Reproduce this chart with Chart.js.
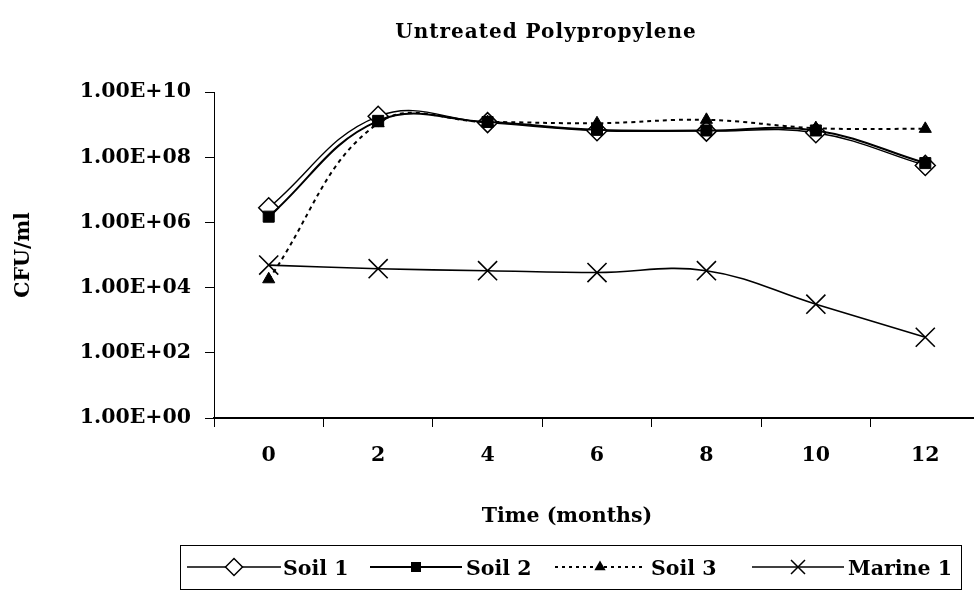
<!DOCTYPE html>
<html><head><meta charset="utf-8">
<script src="https://cdn.jsdelivr.net/npm/chart.js@4.4.0/dist/chart.umd.min.js"></script>
<style>
html,body{margin:0;padding:0;background:#fff;overflow:hidden;width:974px;height:593px}
#wrap{position:absolute;left:0;top:0;width:990px;height:593px}
</style>
</head><body><div id="wrap"><canvas id="c" width="990" height="593" style="width:990px;height:593px"></canvas></div>
<script>
const chartTitle = 'Untreated Polypropylene';
const xAxisTitle = 'Time (months)';
const yAxisTitle = 'CFU/ml';
const months = ['0','2','4','6','8','10','12'];
const soil1 = [2.8e6, 1.8e9, 1.15e9, 6.5e8, 6.3e8, 5.6e8, 5.6e7];
const soil2 = [1.5e6, 1.3e9, 1.2e9, 6.9e8, 6.6e8, 6.6e8, 6.6e7];
const soil3 = [1.8e4, 1.1e9, 1.2e9, 1.1e9, 1.4e9, 7.8e8, 7.4e8];
const marine1 = [4.9e4, 3.8e4, 3.3e4, 2.9e4, 3.3e4, 3.1e3, 3.0e2];
const seriesNames = ['Soil 1', 'Soil 2', 'Soil 3', 'Marine 1'];
const yTickValues = [1, 1e2, 1e4, 1e6, 1e8, 1e10];
const yTickLabels = ['1.00E+00', '1.00E+02', '1.00E+04', '1.00E+06', '1.00E+08', '1.00E+10'];

const FONT_FAMILY = "'DejaVu Serif', 'Liberation Serif', serif";
const baseFont = {family: FONT_FAMILY, size: 20.5, weight: 'bold'};
Chart.defaults.color = '#000';

function drawMarker(ctx, style, x, y, r) {
  ctx.save();
  ctx.strokeStyle = '#000';
  ctx.fillStyle = '#000';
  ctx.setLineDash([]);
  ctx.beginPath();
  if (style === 'diamond') {
    ctx.lineWidth = 1.5;
    ctx.moveTo(x - r, y); ctx.lineTo(x, y - r); ctx.lineTo(x + r, y); ctx.lineTo(x, y + r); ctx.closePath();
    ctx.fillStyle = '#fff'; ctx.fill(); ctx.stroke();
  } else if (style === 'square') {
    ctx.rect(x - r, y - r, 2 * r, 2 * r); ctx.fill();
  } else if (style === 'triangle') {
    ctx.moveTo(x, y - r); ctx.lineTo(x + r * 0.87, y + r * 0.5); ctx.lineTo(x - r * 0.87, y + r * 0.5); ctx.closePath(); ctx.fill();
  } else if (style === 'cross') {
    ctx.lineWidth = 1.5;
    ctx.moveTo(x - r, y - r); ctx.lineTo(x + r, y + r); ctx.moveTo(x + r, y - r); ctx.lineTo(x - r, y + r); ctx.stroke();
  }
  ctx.restore();
}

const decorPlugin = {
  id: 'decor',
  afterDraw(chart) {
    const ctx = chart.ctx;
    ctx.save();
    ctx.fillStyle = '#000';
    ctx.textAlign = 'center';
    ctx.textBaseline = 'alphabetic';
    ctx.font = "bold 20px " + FONT_FAMILY;
    ctx.letterSpacing = '1px';
    ctx.fillText(chartTitle, 546, 38);
    ctx.letterSpacing = '0px';
    ctx.font = "bold 20.5px " + FONT_FAMILY;
    ctx.fillText(xAxisTitle, 567, 522);
    // legend box
    ctx.lineWidth = 1;
    ctx.strokeStyle = '#000';
    ctx.strokeRect(180.5, 545.5, 781, 44);
    const entries = [
      {x0: 187, x1: 281, tx: 283, marker: 'diamond', r: 8.5, dash: [], lw: 1.5},
      {x0: 370, x1: 462, tx: 466, marker: 'square', r: 5, dash: [], lw: 1.8},
      {x0: 555, x1: 645, tx: 651, marker: 'triangle', r: 6.5, dash: [3, 4], lw: 2},
      {x0: 752, x1: 844, tx: 848, marker: 'cross', r: 7, dash: [], lw: 1.5}
    ];
    const ly = 567;
    entries.forEach((e, i) => {
      ctx.save();
      ctx.beginPath();
      ctx.setLineDash(e.dash);
      ctx.lineWidth = e.lw;
      ctx.moveTo(e.x0, ly); ctx.lineTo(e.x1, ly); ctx.stroke();
      ctx.restore();
      drawMarker(ctx, e.marker, (e.x0 + e.x1) / 2, ly, e.r);
      ctx.textAlign = 'left';
      ctx.font = "bold 20.5px " + FONT_FAMILY;
      ctx.fillText(seriesNames[i], e.tx, 575);
    });
    ctx.restore();
  }
};

const ctx = document.getElementById('c').getContext('2d');
new Chart(ctx, {
  type: 'line',
  data: {
    labels: months,
    datasets: [
      {label: seriesNames[0], data: soil1, order: 4, borderColor: '#000', borderWidth: 1.4, tension: 0.4,
       pointStyle: 'rectRot', pointRadius: 10, pointBackgroundColor: '#fff', pointBorderColor: '#000', pointBorderWidth: 1.5},
      {label: seriesNames[1], data: soil2, order: 3, borderColor: '#000', borderWidth: 2, tension: 0.4,
       pointStyle: 'rect', pointRadius: 7.8, pointBackgroundColor: '#000', pointBorderColor: '#000', pointBorderWidth: 1},
      {label: seriesNames[2], data: soil3, order: 2, borderColor: '#000', borderWidth: 2, borderDash: [4, 4], tension: 0.4,
       pointStyle: 'triangle', pointRadius: 7, pointBackgroundColor: '#000', pointBorderColor: '#000', pointBorderWidth: 1},
      {label: seriesNames[3], data: marine1, order: 1, borderColor: '#000', borderWidth: 1.6, tension: 0.4,
       pointStyle: 'crossRot', pointRadius: 13.5, pointBackgroundColor: '#000', pointBorderColor: '#000', pointBorderWidth: 1.6}
    ]
  },
  options: {
    responsive: false,
    animation: false,
    devicePixelRatio: 1,
    layout: {autoPadding: false, padding: {top: 92, right: 10, bottom: 0, left: 0}},
    plugins: {legend: {display: false}, tooltip: {enabled: false}, title: {display: false}},
    scales: {
      x: {
        type: 'category',
        offset: true,
        grid: {offset: true, drawOnChartArea: false, drawTicks: true, tickLength: 9, color: '#000', lineWidth: 1},
        border: {display: true, color: '#000', width: 2},
        ticks: {font: baseFont, color: '#000', padding: 16, maxRotation: 0},
        afterFit(s) { s.height = 175; s.paddingLeft = 0; s.paddingRight = 0; }
      },
      y: {
        type: 'logarithmic',
        min: 1,
        max: 1e10,
        grid: {drawOnChartArea: false, drawTicks: true, tickLength: 9, color: '#000', lineWidth: 1},
        border: {display: true, color: '#000', width: 1},
        afterBuildTicks(s) { s.ticks = yTickValues.map(v => ({value: v})); },
        ticks: {
          font: baseFont, color: '#000', padding: 14,
          callback(v) {
            let best = 0;
            yTickValues.forEach((t, i) => { if (Math.abs(Math.log10(t) - Math.log10(v)) < 0.01) best = i; });
            return yTickLabels[best];
          }
        },
        title: {display: true, text: yAxisTitle, font: baseFont, color: '#000', padding: {top: 11, bottom: 0}},
        afterFit(s) { s.width = 214; s.paddingTop = 0; s.paddingBottom = 0; }
      }
    }
  },
  plugins: [decorPlugin]
});
</script>
</body></html>
